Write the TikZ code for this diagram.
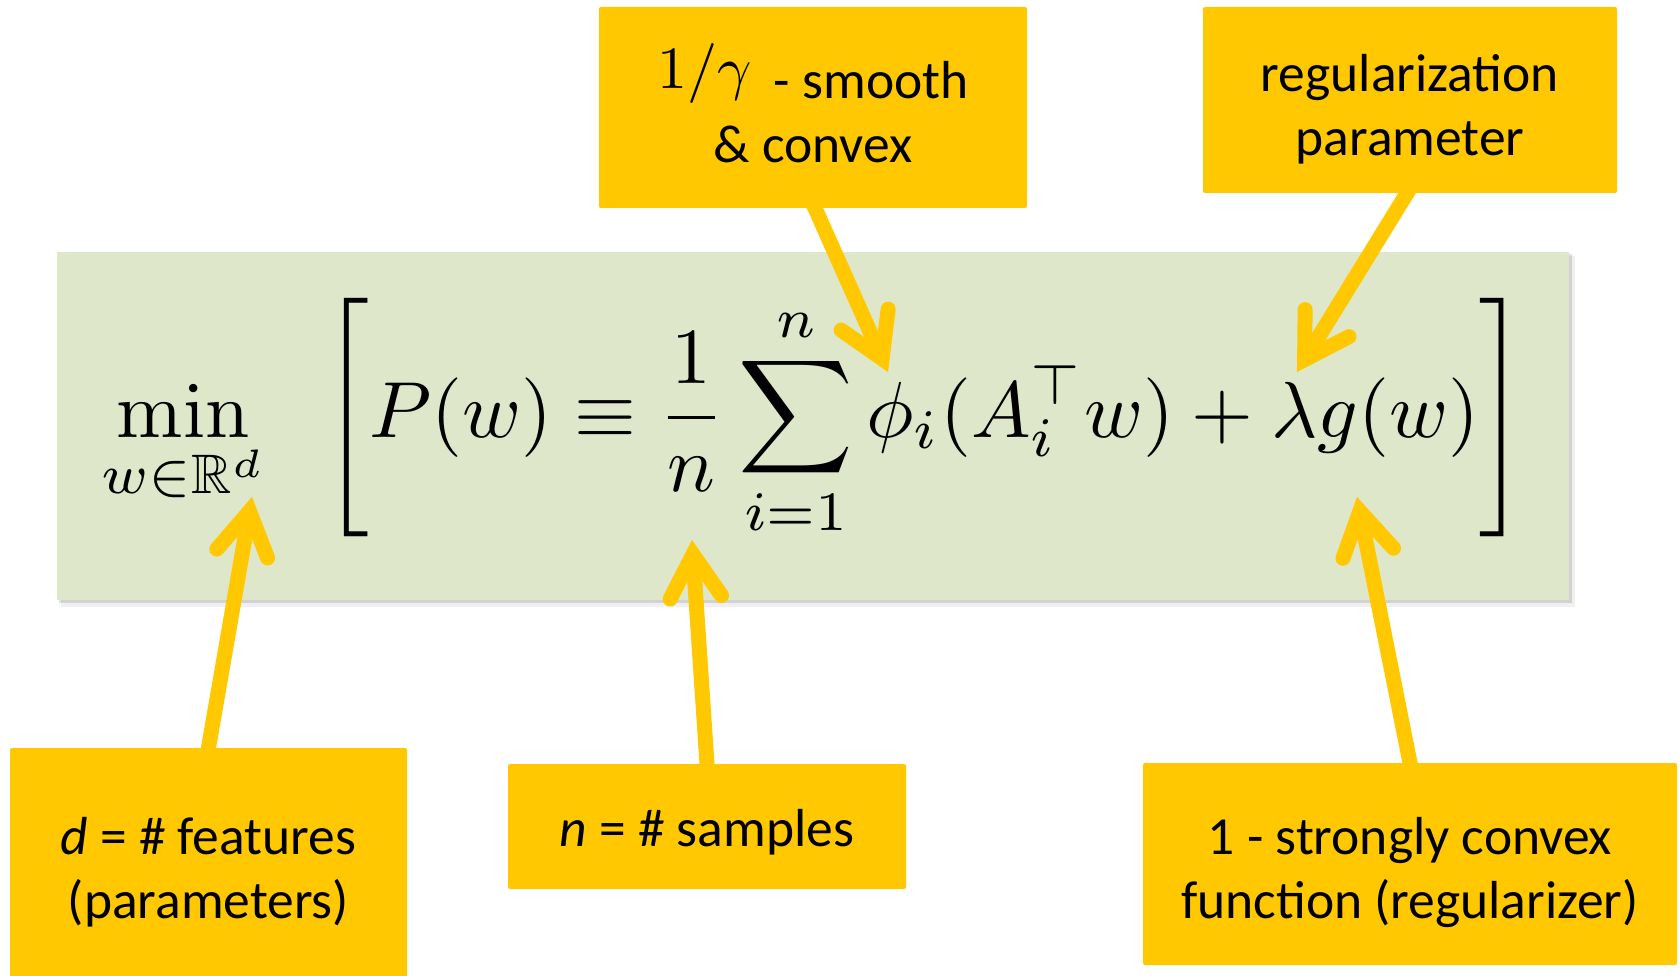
\documentclass[tikz,border=0pt]{standalone}
\usepackage[no-math]{fontspec}
\setmainfont{Carlito}
\usepackage{amsmath,amssymb}
\usepackage{graphicx}
\usetikzlibrary{calc}
\definecolor{ygold}{RGB}{255,200,0}
\definecolor{sage}{RGB}{222,231,201}
\tikzset{
  ybox/.style={fill=ygold, rounded corners=2pt, inner sep=0pt},
  lbl/.style={inner sep=0pt, align=center, font=\fontsize{53.5}{64}\selectfont},
  eqbox/.style={fill=sage, inner sep=0pt},
  yshaft/.style={draw=ygold, line width=15pt, shorten <=-8pt},
  yhead/.style={draw=ygold, line width=15pt, line cap=round, line join=miter},
}
\newcommand\yarr[2]{%
  \coordinate (g#2) at ($(#2)!14.5pt!(#1)$);
  \draw[yshaft] (#1) -- (g#2);
  \draw[yhead] ($(g#2)!50pt!31:(#1)$) -- (g#2) -- ($(g#2)!50pt!-31:(#1)$);
}
\begin{document}
\begin{tikzpicture}[x=1pt,y=-1pt]
\clip (0,0) rectangle (1680,976);
\fill[white] (0,0) rectangle (1680,976);
% formula panel with soft shadow
\fill[black,opacity=0.06] (61,256) rectangle (1575,607);
\fill[black,opacity=0.12] (59,254) rectangle (1572,603);
\node[eqbox, minimum width=1512pt, minimum height=348pt] (panel) at (813,426) {};
\node[anchor=base west, inner sep=0pt] (eq) at (101,437)
  {\scalebox{7.95}{$\displaystyle \min_{w\in\mathbb{R}^d}\hspace{5.6pt}\left[P(w)\equiv\frac{1}{n}\sum_{i=1}^{n}\phi_i(A_i^{\top}w)+\lambda g(w)\right]$}};
% callout boxes
\node[ybox, minimum width=428pt, minimum height=201pt] (b1) at (813,107.5) {};
\node[ybox, minimum width=414pt, minimum height=186pt] (b2) at (1410,100) {};
\node[ybox, minimum width=397pt, minimum height=248pt] (b3) at (208.5,872) {};
\node[ybox, minimum width=398pt, minimum height=125pt] (b4) at (707,826.5) {};
\node[ybox, minimum width=534pt, minimum height=202pt] (b5) at (1410,864) {};
% labels
\node[lbl] (l1) at ([yshift=4pt]b1.center)
  {\raisebox{10pt}{\scalebox{6}{\normalsize$1/\gamma$}}\hspace{10pt} - smooth\\\& convex};
\node[lbl] (l2) at ([yshift=-9pt]b2.center) {regularization\\parameter};
\node[lbl] (l3) at (b3.center) {\textit{d} = \# features\\(parameters)};
\node[lbl] (l4) at ([yshift=-6pt]b4.center) {\textit{n} = \# samples};
\node[lbl] (l5) at ([yshift=-9pt]b5.center) {1 - strongly convex\\function (regularizer)};
% arrow ends
\coordinate (s1) at ([xshift=2pt]b1.south);
\coordinate (s2) at ([xshift=-3pt]b2.south);
\coordinate (s3) at (b3.north);
\coordinate (s4) at (b4.north);
\coordinate (s5) at (b5.north);
\coordinate (t1) at (888,372);
\coordinate (t2) at (1297,372);
\coordinate (t3) at (252,497);
\coordinate (t4) at (692,540);
\coordinate (t5) at (1357,497);
\yarr{s1}{t1}
\yarr{s2}{t2}
\yarr{s3}{t3}
\yarr{s4}{t4}
\yarr{s5}{t5}
\end{tikzpicture}
\end{document}
